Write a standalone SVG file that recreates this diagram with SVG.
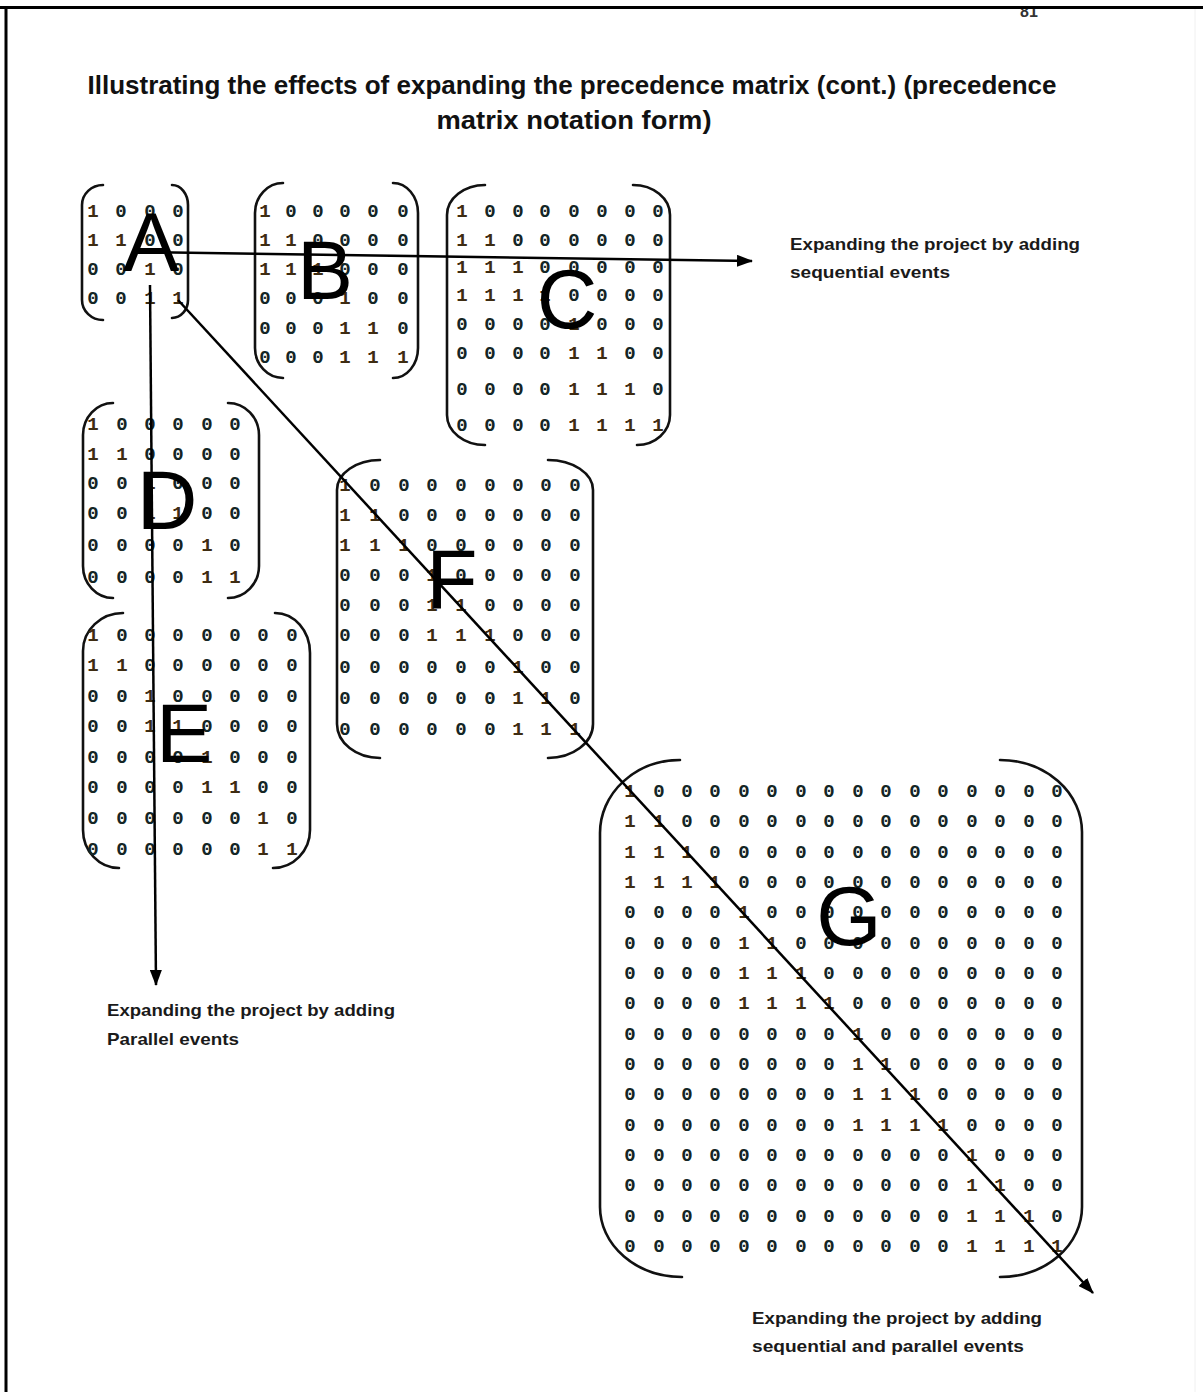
<svg xmlns="http://www.w3.org/2000/svg" width="1203" height="1392" viewBox="0 0 1203 1392">
<style>
.m{font-family:"Liberation Mono","DejaVu Sans Mono",monospace;font-weight:bold;font-size:19px;fill:#142525;text-anchor:middle}
.o{fill:#3e2c12}
.big{font-family:"Liberation Sans",Arial,sans-serif;font-size:84px;fill:#000;text-anchor:middle}
.br{fill:none;stroke:#111;stroke-width:2.6;stroke-linecap:round}
.lbl{font-family:"Liberation Sans",Arial,sans-serif;font-weight:bold;font-size:17px;fill:#1a1a1a}
.ttl{font-family:"Liberation Sans",Arial,sans-serif;font-weight:bold;font-size:26px;fill:#111;text-anchor:middle}
.ar{fill:none;stroke:#000;stroke-width:2.5}
</style>
<defs>
<marker id="ah" markerUnits="userSpaceOnUse" markerWidth="16" markerHeight="12" refX="15" refY="6" orient="auto"><path d="M0,0 L16,6 L0,12 z" fill="#000"/></marker>
</defs>
<rect width="1203" height="1392" fill="#fff"/>
<text x="1029" y="17" font-family="Liberation Sans, Arial, sans-serif" font-weight="bold" font-size="16" fill="#333" text-anchor="middle">81</text>
<rect x="0" y="0" width="1203" height="7" fill="#fff"/>
<g id="frame">
<line x1="0" y1="7.5" x2="1203" y2="7.5" stroke="#000" stroke-width="3"/>
<line x1="6" y1="6" x2="6" y2="1392" stroke="#000" stroke-width="3"/>
<line x1="1195" y1="9" x2="1195" y2="1392" stroke="#f0f0f0" stroke-width="1"/>
</g>
<g id="title">
<text class="ttl" x="572" y="94" textLength="969" lengthAdjust="spacingAndGlyphs">Illustrating the effects of expanding the precedence  matrix (cont.) (precedence</text>
<text class="ttl" x="574" y="129" textLength="275" lengthAdjust="spacingAndGlyphs">matrix notation form)</text>
</g>

<g id="matrix-A">
<path class="br" d="M103,185 A21,20 0 0 0 82,205 L82,300 A21,20 0 0 0 103,320"/>
<path class="br" d="M172,185 A16,20 0 0 1 188,205 L188,300 A16,18 0 0 1 172,318"/>
<text class="m" x="93 121 150 178" y="217"><tspan class="o">1</tspan>000</text>
<text class="m" x="93 121 150 178" y="246"><tspan class="o">11</tspan>00</text>
<text class="m" x="93 121 150 178" y="275">00<tspan class="o">1</tspan>0</text>
<text class="m" x="93 121 150 178" y="304">00<tspan class="o">11</tspan></text>
<text class="big" x="151" y="271" font-size="86">A</text>
</g>

<g id="matrix-B">
<path class="br" d="M283,183 A28,30 0 0 0 255,213 L255,348 A28,30 0 0 0 283,378"/>
<path class="br" d="M393,183 A25,30 0 0 1 418,213 L418,348 A25,30 0 0 1 393,378"/>
<text class="m" x="265 291 318 345 373 403" y="217"><tspan class="o">1</tspan>00000</text>
<text class="m" x="265 291 318 345 373 403" y="246"><tspan class="o">11</tspan>0000</text>
<text class="m" x="265 291 318 345 373 403" y="275"><tspan class="o">111</tspan>000</text>
<text class="m" x="265 291 318 345 373 403" y="304">000<tspan class="o">1</tspan>00</text>
<text class="m" x="265 291 318 345 373 403" y="334">000<tspan class="o">11</tspan>0</text>
<text class="m" x="265 291 318 345 373 403" y="363">000<tspan class="o">111</tspan></text>
<text class="big" x="325" y="299" font-size="80">B</text>
</g>

<g id="matrix-C">
<path class="br" d="M485,185 A38,30 0 0 0 447,215 L447,415 A38,30 0 0 0 485,445"/>
<path class="br" d="M633,185 A37,30 0 0 1 670,215 L670,415 A33,30 0 0 1 637,445"/>
<text class="m" x="462 490 518 545 574 602 630 658" y="217"><tspan class="o">1</tspan>0000000</text>
<text class="m" x="462 490 518 545 574 602 630 658" y="246"><tspan class="o">11</tspan>000000</text>
<text class="m" x="462 490 518 545 574 602 630 658" y="273"><tspan class="o">111</tspan>00000</text>
<text class="m" x="462 490 518 545 574 602 630 658" y="301"><tspan class="o">1111</tspan>0000</text>
<text class="m" x="462 490 518 545 574 602 630 658" y="330">0000<tspan class="o">1</tspan>000</text>
<text class="m" x="462 490 518 545 574 602 630 658" y="359">0000<tspan class="o">11</tspan>00</text>
<text class="m" x="462 490 518 545 574 602 630 658" y="395">0000<tspan class="o">111</tspan>0</text>
<text class="m" x="462 490 518 545 574 602 630 658" y="431">0000<tspan class="o">1111</tspan></text>
<text class="big" x="567" y="328" font-size="80">C</text>
</g>

<g id="matrix-D">
<path class="br" d="M113,403 A30,32 0 0 0 83,435 L83,566 A30,32 0 0 0 113,598"/>
<path class="br" d="M228,403 A31,32 0 0 1 259,435 L259,566 A31,32 0 0 1 228,598"/>
<text class="m" x="93 122 150 178 207 235" y="430"><tspan class="o">1</tspan>00000</text>
<text class="m" x="93 122 150 178 207 235" y="460"><tspan class="o">11</tspan>0000</text>
<text class="m" x="93 122 150 178 207 235" y="489">00<tspan class="o">1</tspan>000</text>
<text class="m" x="93 122 150 178 207 235" y="519">00<tspan class="o">11</tspan>00</text>
<text class="m" x="93 122 150 178 207 235" y="551">0000<tspan class="o">1</tspan>0</text>
<text class="m" x="93 122 150 178 207 235" y="583">0000<tspan class="o">11</tspan></text>
<text class="big" x="167" y="529" font-size="82">D</text>
</g>

<g id="matrix-E">
<path class="br" d="M123,613 A40,38 0 0 0 83,651 L83,830 A36,38 0 0 0 119,868"/>
<path class="br" d="M275,613 A35,40 0 0 1 310,653 L310,830 A37,38 0 0 1 273,868"/>
<text class="m" x="93 122 150 178 207 235 263 292" y="641"><tspan class="o">1</tspan>0000000</text>
<text class="m" x="93 122 150 178 207 235 263 292" y="671"><tspan class="o">11</tspan>000000</text>
<text class="m" x="93 122 150 178 207 235 263 292" y="702">00<tspan class="o">1</tspan>00000</text>
<text class="m" x="93 122 150 178 207 235 263 292" y="732">00<tspan class="o">11</tspan>0000</text>
<text class="m" x="93 122 150 178 207 235 263 292" y="763">0000<tspan class="o">1</tspan>000</text>
<text class="m" x="93 122 150 178 207 235 263 292" y="793">0000<tspan class="o">11</tspan>00</text>
<text class="m" x="93 122 150 178 207 235 263 292" y="824">000000<tspan class="o">1</tspan>0</text>
<text class="m" x="93 122 150 178 207 235 263 292" y="855">000000<tspan class="o">11</tspan></text>
<text class="big" x="184" y="762" font-size="82">E</text>
</g>

<g id="matrix-F">
<path class="br" d="M380,460 A43,30 0 0 0 337,490 L337,724 A43,34 0 0 0 380,758"/>
<path class="br" d="M548,460 A45,30 0 0 1 593,490 L593,724 A45,34 0 0 1 548,758"/>
<text class="m" x="345 375 404 432 461 490 518 546 575" y="491"><tspan class="o">1</tspan>00000000</text>
<text class="m" x="345 375 404 432 461 490 518 546 575" y="521"><tspan class="o">11</tspan>0000000</text>
<text class="m" x="345 375 404 432 461 490 518 546 575" y="551"><tspan class="o">111</tspan>000000</text>
<text class="m" x="345 375 404 432 461 490 518 546 575" y="581">000<tspan class="o">1</tspan>00000</text>
<text class="m" x="345 375 404 432 461 490 518 546 575" y="611">000<tspan class="o">11</tspan>0000</text>
<text class="m" x="345 375 404 432 461 490 518 546 575" y="641">000<tspan class="o">111</tspan>000</text>
<text class="m" x="345 375 404 432 461 490 518 546 575" y="673">000000<tspan class="o">1</tspan>00</text>
<text class="m" x="345 375 404 432 461 490 518 546 575" y="704">000000<tspan class="o">11</tspan>0</text>
<text class="m" x="345 375 404 432 461 490 518 546 575" y="735">000000<tspan class="o">111</tspan></text>
<text class="big" x="452" y="608" font-size="82">F</text>
</g>

<g id="matrix-G">
<path class="br" d="M680,760 A80,73 0 0 0 600,833 L600,1207 A82,70 0 0 0 682,1277"/>
<path class="br" d="M1000,760 A82,72 0 0 1 1082,832 L1082,1207 A82,70 0 0 1 1000,1277"/>
<text class="m" x="630 659 687 715 744 772 801 829 858 886 915 943 972 1000 1029 1057" y="797"><tspan class="o">1</tspan>000000000000000</text>
<text class="m" x="630 659 687 715 744 772 801 829 858 886 915 943 972 1000 1029 1057" y="827"><tspan class="o">11</tspan>00000000000000</text>
<text class="m" x="630 659 687 715 744 772 801 829 858 886 915 943 972 1000 1029 1057" y="858"><tspan class="o">111</tspan>0000000000000</text>
<text class="m" x="630 659 687 715 744 772 801 829 858 886 915 943 972 1000 1029 1057" y="888"><tspan class="o">1111</tspan>000000000000</text>
<text class="m" x="630 659 687 715 744 772 801 829 858 886 915 943 972 1000 1029 1057" y="918">0000<tspan class="o">1</tspan>00000000000</text>
<text class="m" x="630 659 687 715 744 772 801 829 858 886 915 943 972 1000 1029 1057" y="949">0000<tspan class="o">11</tspan>0000000000</text>
<text class="m" x="630 659 687 715 744 772 801 829 858 886 915 943 972 1000 1029 1057" y="979">0000<tspan class="o">111</tspan>000000000</text>
<text class="m" x="630 659 687 715 744 772 801 829 858 886 915 943 972 1000 1029 1057" y="1009">0000<tspan class="o">1111</tspan>00000000</text>
<text class="m" x="630 659 687 715 744 772 801 829 858 886 915 943 972 1000 1029 1057" y="1040">00000000<tspan class="o">1</tspan>0000000</text>
<text class="m" x="630 659 687 715 744 772 801 829 858 886 915 943 972 1000 1029 1057" y="1070">00000000<tspan class="o">11</tspan>000000</text>
<text class="m" x="630 659 687 715 744 772 801 829 858 886 915 943 972 1000 1029 1057" y="1100">00000000<tspan class="o">111</tspan>00000</text>
<text class="m" x="630 659 687 715 744 772 801 829 858 886 915 943 972 1000 1029 1057" y="1131">00000000<tspan class="o">1111</tspan>0000</text>
<text class="m" x="630 659 687 715 744 772 801 829 858 886 915 943 972 1000 1029 1057" y="1161">000000000000<tspan class="o">1</tspan>000</text>
<text class="m" x="630 659 687 715 744 772 801 829 858 886 915 943 972 1000 1029 1057" y="1191">000000000000<tspan class="o">11</tspan>00</text>
<text class="m" x="630 659 687 715 744 772 801 829 858 886 915 943 972 1000 1029 1057" y="1222">000000000000<tspan class="o">111</tspan>0</text>
<text class="m" x="630 659 687 715 744 772 801 829 858 886 915 943 972 1000 1029 1057" y="1252">000000000000<tspan class="o">1111</tspan></text>
<text class="big" x="849" y="945" font-size="80">G</text>
</g>

<g id="connectors">
<path class="ar" d="M140,252 L752,261" marker-end="url(#ah)"/>
<path class="ar" d="M150,285 L156,985" marker-end="url(#ah)"/>
<path class="ar" d="M178,300 L1093,1293" marker-end="url(#ah)"/>
</g>

<g id="label-sequential">
<text class="lbl" x="790" y="250" textLength="290" lengthAdjust="spacingAndGlyphs">Expanding  the project by adding</text>
<text class="lbl" x="790" y="278" textLength="160" lengthAdjust="spacingAndGlyphs">sequential events</text>
</g>
<g id="label-parallel">
<text class="lbl" x="107" y="1016" textLength="288" lengthAdjust="spacingAndGlyphs">Expanding  the project by adding</text>
<text class="lbl" x="107" y="1045" textLength="132" lengthAdjust="spacingAndGlyphs">Parallel events</text>
</g>
<g id="label-both">
<text class="lbl" x="752" y="1324" textLength="290" lengthAdjust="spacingAndGlyphs">Expanding  the project by adding</text>
<text class="lbl" x="752" y="1352" textLength="272" lengthAdjust="spacingAndGlyphs">sequential and parallel events</text>
</g>
</svg>
